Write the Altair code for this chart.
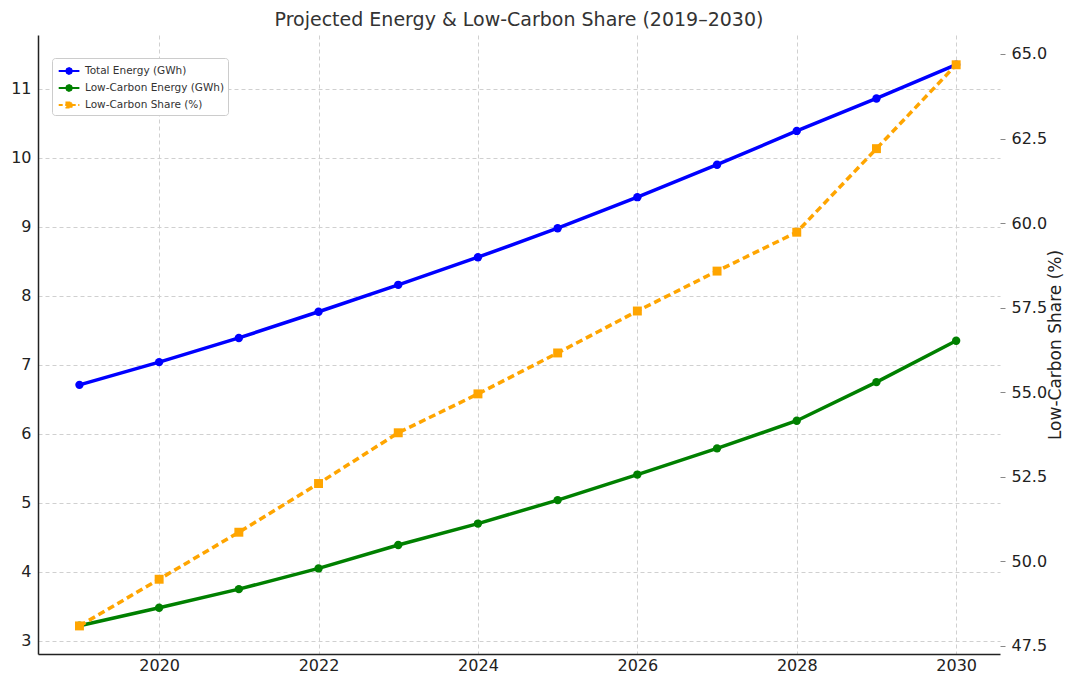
import altair as alt
import pandas as pd

years = list(range(2019, 2031))
total_energy = [6.71, 7.04, 7.39, 7.77, 8.16, 8.56, 8.98, 9.43, 9.90, 10.39, 10.86, 11.35]
low_carbon_energy = [3.22, 3.48, 3.75, 4.05, 4.39, 4.70, 5.04, 5.41, 5.79, 6.19, 6.75, 7.35]
low_carbon_share = [48.09, 49.47, 50.86, 52.30, 53.80, 54.95, 56.16, 57.40, 58.58, 59.73, 62.20, 64.68]

series_names = ["Total Energy (GWh)", "Low-Carbon Energy (GWh)", "Low-Carbon Share (%)"]
series_colors = ["#0000ff", "#008000", "#ffa500"]
legend_dash = [[1, 0], [1, 0], [4, 2.5]]
x_ticks = [2020, 2022, 2024, 2026, 2028, 2030]
left_ticks = [3, 4, 5, 6, 7, 8, 9, 10, 11]
right_ticks = [47.5, 50.0, 52.5, 55.0, 57.5, 60.0, 62.5, 65.0]

left_df = pd.DataFrame(
    {"year": years * 2,
     "value": total_energy + low_carbon_energy,
     "series": [series_names[0]] * len(years) + [series_names[1]] * len(years)}
)
right_df = pd.DataFrame(
    {"year": years, "share": low_carbon_share, "series": [series_names[2]] * len(years)}
)

FONT = "DejaVu Sans"

# legend glyphs: short line with a marker on it (unit box -1..1)
CIRCLE_GLYPH = ("M-0.7,0L1.6,0"
                "M0.78,0L0.683,0.233L0.45,0.33L0.217,0.233L0.12,0L0.217,-0.233L0.45,-0.33L0.683,-0.233Z"
                "M0.6,0L0.556,0.106L0.45,0.15L0.344,0.106L0.3,0L0.344,-0.106L0.45,-0.15L0.556,-0.106Z")
SQUARE_GLYPH = "M-0.7,0L1.6,0M0.15,-0.3L0.75,-0.3L0.75,0.3L0.15,0.3ZM0.3,-0.15L0.6,-0.15L0.6,0.15L0.3,0.15Z"
legend_glyphs = [CIRCLE_GLYPH, CIRCLE_GLYPH, SQUARE_GLYPH]

LEG = dict(title=None, orient="none", legendX=14, legendY=23)

color = alt.Color("series:N", scale=alt.Scale(domain=series_names, range=series_colors),
                  legend=alt.Legend(**LEG))

x = alt.X("year:Q",
          scale=alt.Scale(domain=[2018.48, 2030.55], nice=False, zero=False),
          axis=alt.Axis(values=x_ticks, format="d", title=None, domainColor="#222",
                        domainWidth=1.5, tickSize=0, labelPadding=3,
                        gridDash=[4, 3], gridColor="#d0d0d0"))

y_left = alt.Y("value:Q",
               scale=alt.Scale(domain=[2.81, 11.78], nice=False, zero=False),
               axis=alt.Axis(values=left_ticks, title=None, orient="left", domainColor="#222",
                             domainWidth=1.5, tickSize=0, labelPadding=7,
                             gridDash=[4, 3], gridColor="#d0d0d0"))

y_right = alt.Y("share:Q",
                scale=alt.Scale(domain=[47.26, 65.56], nice=False, zero=False),
                axis=alt.Axis(values=right_ticks, format=".1f", title="Low-Carbon Share (%)",
                              orient="right", domain=False, tickColor="#888", tickSize=5,
                              labelPadding=6, titlePadding=18, titleFontSize=17, titleAngle=270,
                              titleFontWeight="normal", titleColor="#222",
                              gridDash=[4, 3], gridColor="#d0d0d0"))

left_base = alt.Chart(left_df).encode(x=x, y=y_left, color=color)
# legend-only layer: its rows are filtered away, the legend comes from the scale domains
legend_layer = left_base.mark_point(filled=False, strokeWidth=1.8).encode(
    shape=alt.Shape("series:N", scale=alt.Scale(domain=series_names, range=legend_glyphs),
                    legend=alt.Legend(**LEG)),
    strokeDash=alt.StrokeDash("series:N", scale=alt.Scale(domain=series_names, range=legend_dash),
                              legend=alt.Legend(**LEG)),
).transform_filter("false")

left_layer = alt.layer(
    legend_layer,
    left_base.mark_line(strokeWidth=3.5),
    left_base.mark_point(filled=True, size=70, opacity=1, shape="circle"),
)

right_base = alt.Chart(right_df).encode(x=x, y=y_right, color=color)
right_layer = alt.layer(
    right_base.mark_line(strokeWidth=3.5, strokeDash=[7, 4]),
    right_base.mark_point(filled=True, size=80, opacity=1, shape="square"),
)

chart = (
    alt.layer(left_layer, right_layer)
    .resolve_scale(y="independent")
    .properties(
        width=962, height=619,
        title=alt.Title("Projected Energy & Low-Carbon Share (2019–2030)", fontSize=19,
                        font=FONT, fontWeight="normal", color="#333", anchor="middle", offset=5),
        autosize=alt.AutoSizeParams(type="none"),
        padding={"left": 30, "top": 27, "right": 65, "bottom": 19},
    )
    .configure(font=FONT)
    .configure_view(stroke=None)
    .configure_axis(labelFontSize=16, labelColor="#222", labelFont=FONT, titleFont=FONT)
    .configure_legend(labelFontSize=10.5, labelFont=FONT, labelColor="#333", strokeColor="#cccccc",
                      fillColor="white", padding=3, cornerRadius=3, symbolSize=324,
                      symbolOpacity=1, symbolStrokeWidth=1.8, rowPadding=0, labelOffset=10)
)

chart.save("out.html", embed_options={"renderer": "svg", "actions": False})
